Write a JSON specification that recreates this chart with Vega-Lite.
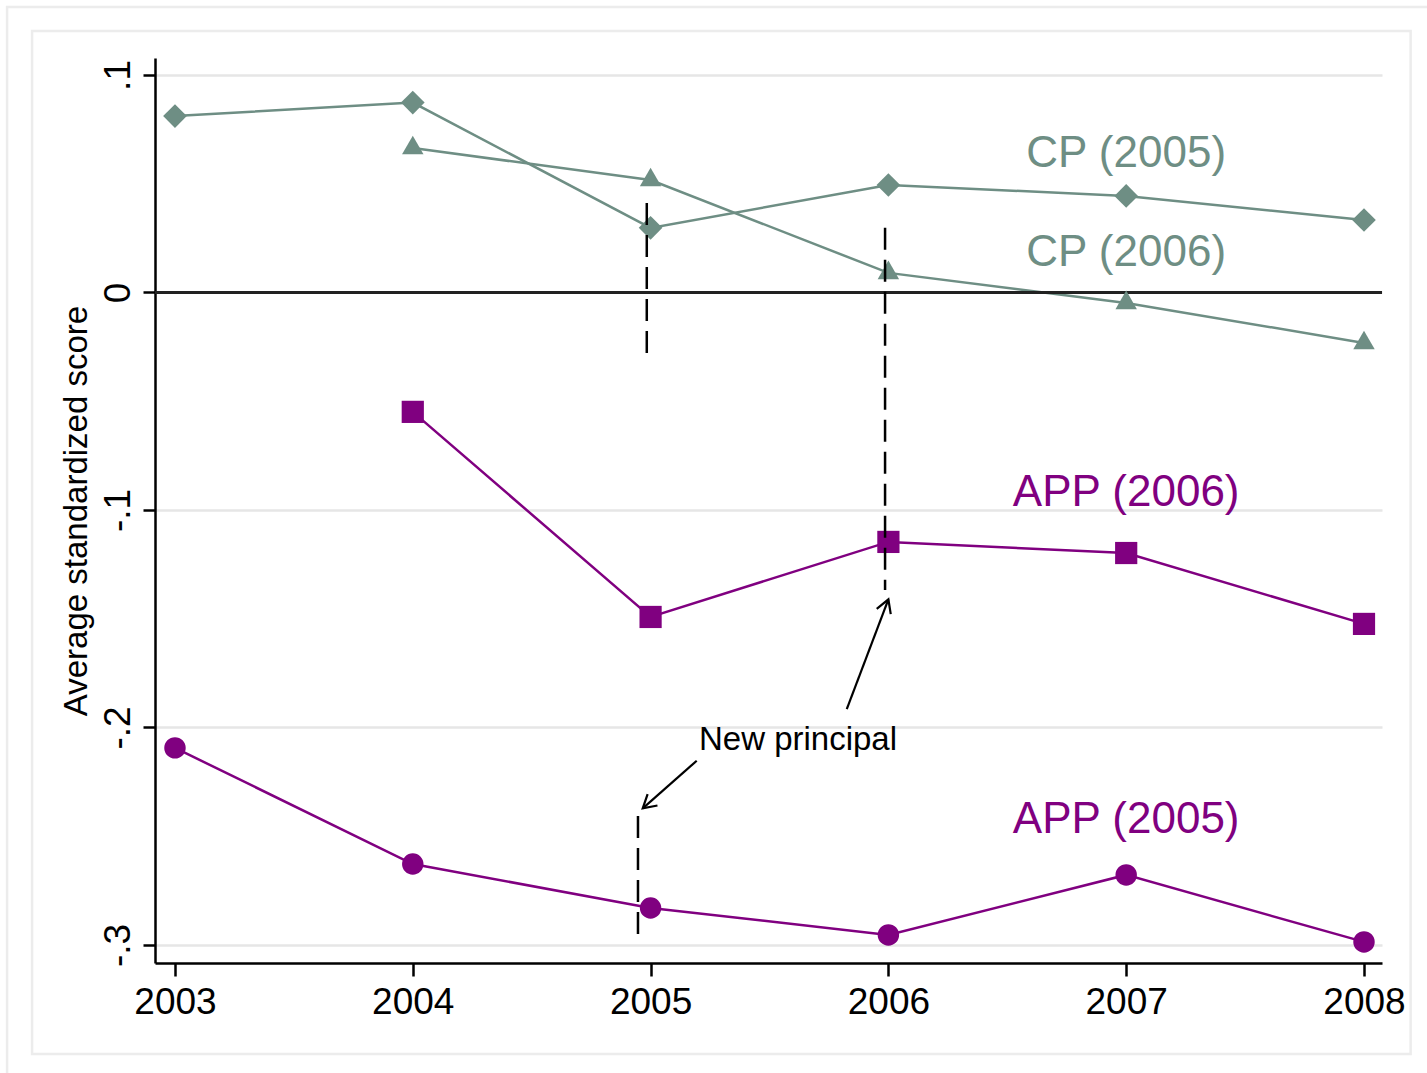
{
  "$schema": "https://vega.github.io/schema/vega-lite/v6.json",
  "width": 1227,
  "height": 905,
  "autosize": {"type": "none"},
  "padding": {"left": 155, "top": 58, "right": 45, "bottom": 110},
  "background": "white",
  "config": {
    "view": {"stroke": null},
    "font": "Liberation Sans",
    "text": {"font": "Liberation Sans"}
  },
  "datasets": {
    "scores": [
      {"series": "CP (2005)", "year": 2003, "score": 0.0811},
      {"series": "CP (2005)", "year": 2004, "score": 0.0873},
      {"series": "CP (2005)", "year": 2005, "score": 0.0297},
      {"series": "CP (2005)", "year": 2006, "score": 0.0494},
      {"series": "CP (2005)", "year": 2007, "score": 0.0444},
      {"series": "CP (2005)", "year": 2008, "score": 0.0333},
      {"series": "CP (2006)", "year": 2004, "score": 0.0664},
      {"series": "CP (2006)", "year": 2005, "score": 0.0517},
      {"series": "CP (2006)", "year": 2006, "score": 0.0090},
      {"series": "CP (2006)", "year": 2007, "score": -0.0048},
      {"series": "CP (2006)", "year": 2008, "score": -0.0232},
      {"series": "APP (2006)", "year": 2004, "score": -0.0549},
      {"series": "APP (2006)", "year": 2005, "score": -0.1492},
      {"series": "APP (2006)", "year": 2006, "score": -0.1147},
      {"series": "APP (2006)", "year": 2007, "score": -0.1198},
      {"series": "APP (2006)", "year": 2008, "score": -0.1524},
      {"series": "APP (2005)", "year": 2003, "score": -0.2094},
      {"series": "APP (2005)", "year": 2004, "score": -0.2628},
      {"series": "APP (2005)", "year": 2005, "score": -0.2830},
      {"series": "APP (2005)", "year": 2006, "score": -0.2954},
      {"series": "APP (2005)", "year": 2007, "score": -0.2678},
      {"series": "APP (2005)", "year": 2008, "score": -0.2986}
    ],
    "serieslabels": [
      {"series": "CP (2005)", "year": 2007, "score": 0.0577},
      {"series": "CP (2006)", "year": 2007, "score": 0.0123},
      {"series": "APP (2006)", "year": 2007, "score": -0.0982},
      {"series": "APP (2005)", "year": 2007, "score": -0.2485}
    ],
    "vlines": [
      {"year": 2004.984, "top": 0.0411, "bottom": -0.0287},
      {"year": 2005.986, "top": 0.0297, "bottom": -0.1368},
      {"year": 2004.947, "top": -0.2407, "bottom": -0.2977}
    ],
    "arrows": [
      {"arrow": "a1", "year": 2005.825, "score": -0.1916, "year2": 2006.0, "score2": -0.1411},
      {"arrow": "a2", "year": 2005.194, "score": -0.2153, "year2": 2004.967, "score2": -0.2372}
    ],
    "note": [
      {"label": "New principal", "year": 2005.62, "score": -0.2057}
    ],
    "frames": [
      {"frame": "outer", "x1": 2002.294, "x2": 2008.318, "y1": 0.1313, "y2": -0.3644},
      {"frame": "inner", "x1": 2002.399, "x2": 2008.196, "y1": 0.1202, "y2": -0.3501}
    ]
  },
  "layer": [
    {
      "data": {"name": "scores"},
      "mark": {"type": "line", "strokeWidth": 2.5},
      "encoding": {
        "x": {
          "field": "year",
          "type": "quantitative",
          "scale": {"domain": [2002.916, 2008.0757], "nice": false, "zero": false},
          "axis": {
            "title": null,
            "values": [2003, 2004, 2005, 2006, 2007, 2008],
            "format": "d",
            "grid": false,
            "domainColor": "black",
            "domainWidth": 2.5,
            "tickColor": "black",
            "tickWidth": 2.5,
            "tickSize": 13,
            "labelFont": "Liberation Sans",
            "labelFontSize": 37,
            "labelColor": "black",
            "labelPadding": 8,
            "labelFlush": false,
            "labelOverlap": false
          }
        },
        "y": {
          "field": "score",
          "type": "quantitative",
          "scale": {"domain": [-0.3083, 0.1078], "nice": false, "zero": false},
          "axis": {
            "title": "Average standardized score",
            "titleFont": "Liberation Sans",
            "titleFontSize": 33,
            "titleFontWeight": "normal",
            "titleColor": "black",
            "titlePadding": 6,
            "values": [-0.3, -0.2, -0.1, 0, 0.1],
            "labelExpr": "datum.value == 0 ? '0' : (datum.value < 0 ? '-' : '') + replace(format(abs(datum.value), '.1f'), '0.', '.')",
            "labelAngle": -90,
            "labelAlign": "center",
            "labelBaseline": "alphabetic",
            "labelFont": "Liberation Sans",
            "labelFontSize": 37,
            "labelColor": "black",
            "labelPadding": 14,
            "labelFlush": false,
            "labelOverlap": false,
            "grid": true,
            "gridColor": "#e6e6e6",
            "gridWidth": 2.5,
            "domainColor": "black",
            "domainWidth": 2.5,
            "tickColor": "black",
            "tickWidth": 2.5,
            "tickSize": 12
          }
        },
        "detail": {"field": "series"},
        "color": {
          "field": "series",
          "type": "nominal",
          "legend": null,
          "scale": {
            "domain": ["CP (2005)", "CP (2006)", "APP (2006)", "APP (2005)"],
            "range": ["#6e8e84", "#6e8e84", "#800080", "#800080"]
          }
        }
      }
    },
    {
      "data": {"name": "frames"},
      "mark": {"type": "rect", "fill": null, "stroke": "#ececec", "strokeWidth": 2.5, "clip": false},
      "encoding": {
        "x": {"field": "x1", "type": "quantitative"},
        "x2": {"field": "x2"},
        "y": {"field": "y1", "type": "quantitative"},
        "y2": {"field": "y2"}
      }
    },
    {
      "data": {"name": "scores"},
      "mark": {"type": "rule", "color": "#222222", "strokeWidth": 2.5},
      "encoding": {"y": {"datum": 0, "type": "quantitative"}}
    },
    {
      "data": {"name": "scores"},
      "transform": [{"filter": "datum.series != 'CP (2006)'"}],
      "mark": {"type": "point", "filled": true, "opacity": 1},
      "encoding": {
        "x": {"field": "year", "type": "quantitative"},
        "y": {"field": "score", "type": "quantitative"},
        "color": {"field": "series", "type": "nominal", "legend": null},
        "shape": {
          "field": "series",
          "type": "nominal",
          "legend": null,
          "scale": {
            "domain": ["CP (2005)", "CP (2006)", "APP (2006)", "APP (2005)"],
            "range": ["diamond", "triangle-up", "square", "circle"]
          }
        },
        "size": {
          "field": "series",
          "type": "nominal",
          "legend": null,
          "scale": {
            "domain": ["CP (2005)", "CP (2006)", "APP (2006)", "APP (2005)"],
            "range": [560, 460, 380, 460]
          }
        }
      }
    },
    {
      "data": {"name": "scores"},
      "transform": [{"filter": "datum.series == 'CP (2006)'"}],
      "mark": {"type": "point", "filled": true, "opacity": 1, "shape": "triangle-up", "size": 460, "yOffset": -3},
      "encoding": {
        "x": {"field": "year", "type": "quantitative"},
        "y": {"field": "score", "type": "quantitative"},
        "color": {"field": "series", "type": "nominal", "legend": null}
      }
    },
    {
      "data": {"name": "vlines"},
      "mark": {"type": "rule", "color": "black", "strokeWidth": 2.5, "strokeDash": [22, 10]},
      "encoding": {
        "x": {"field": "year", "type": "quantitative"},
        "y": {"field": "top", "type": "quantitative"},
        "y2": {"field": "bottom"}
      }
    },
    {
      "data": {"name": "arrows"},
      "mark": {"type": "rule", "color": "black", "strokeWidth": 2.2},
      "encoding": {
        "x": {"field": "year", "type": "quantitative"},
        "y": {"field": "score", "type": "quantitative"},
        "x2": {"field": "year2"},
        "y2": {"field": "score2"}
      }
    },
    {
      "data": {"name": "arrows"},
      "transform": [{"filter": "datum.arrow == 'a1'"}],
      "mark": {"type": "point", "shape": "M-0.5,0.866L0,0L0.5,0.866", "filled": false, "color": "black", "strokeWidth": 2.2, "size": 900, "angle": 21, "opacity": 1},
      "encoding": {
        "x": {"field": "year2", "type": "quantitative"},
        "y": {"field": "score2", "type": "quantitative"}
      }
    },
    {
      "data": {"name": "arrows"},
      "transform": [{"filter": "datum.arrow == 'a2'"}],
      "mark": {"type": "point", "shape": "M-0.5,0.866L0,0L0.5,0.866", "filled": false, "color": "black", "strokeWidth": 2.2, "size": 900, "angle": 229, "opacity": 1},
      "encoding": {
        "x": {"field": "year2", "type": "quantitative"},
        "y": {"field": "score2", "type": "quantitative"}
      }
    },
    {
      "data": {"name": "note"},
      "mark": {"type": "text", "font": "Liberation Sans", "fontSize": 33, "color": "black", "align": "center", "baseline": "middle"},
      "encoding": {
        "x": {"field": "year", "type": "quantitative"},
        "y": {"field": "score", "type": "quantitative"},
        "text": {"field": "label"}
      }
    },
    {
      "data": {"name": "serieslabels"},
      "mark": {"type": "text", "font": "Liberation Sans", "fontSize": 44, "align": "center", "baseline": "alphabetic"},
      "encoding": {
        "x": {"field": "year", "type": "quantitative"},
        "y": {"field": "score", "type": "quantitative"},
        "text": {"field": "series"},
        "color": {"field": "series", "type": "nominal", "legend": null}
      }
    }
  ]
}
